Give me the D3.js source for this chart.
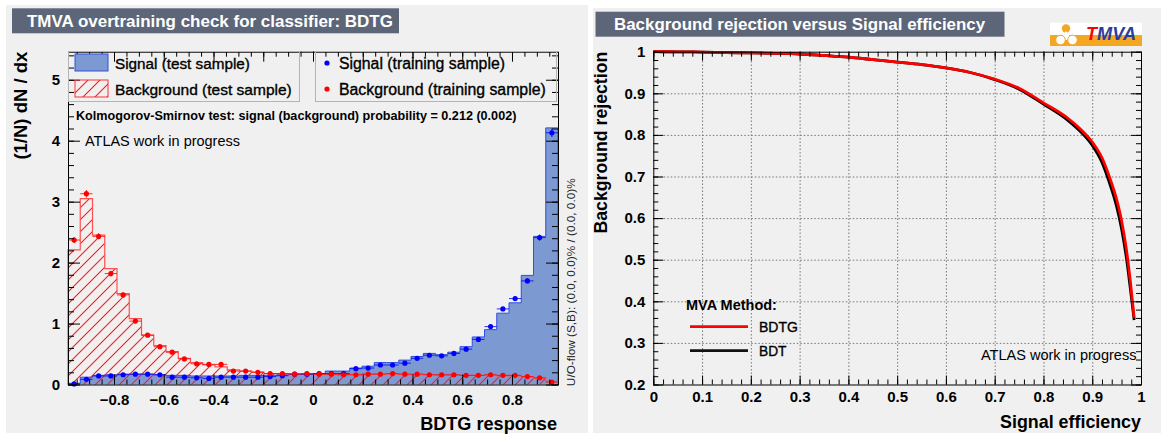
<!DOCTYPE html>
<html><head><meta charset="utf-8">
<script src="https://cdn.jsdelivr.net/npm/d3@7"></script>
<style>
body{margin:0;background:#fff}
svg{display:block}
text{font-family:"Liberation Sans",Arial,Helvetica,sans-serif}
</style>
</head><body>
<svg id="c" width="1164" height="435"></svg>
<script>
// ---------------- DATA ----------------
const histRange = [-0.985, 0.985];
const nBins = 40;
const sigTest = [0.02,0.12,0.15,0.16,0.17,0.17,0.17,0.16,0.15,0.15, 0.14,0.14,0.14,0.14,0.15,0.15,0.15,0.16,0.17,0.17,
                 0.18,0.22,0.22,0.27,0.30,0.36,0.36,0.40,0.46,0.51, 0.49,0.53,0.62,0.78,0.90,1.17,1.34,1.79,2.43,4.21];
const bkgTest = [2.21,3.05,2.45,1.90,1.49,1.08,0.81,0.64,0.54,0.43, 0.36,0.32,0.29,0.24,0.22,0.205,0.18,0.18,0.17,0.17,
                 0.17,0.16,0.16,0.16,0.17,0.17,0.17,0.16,0.16,0.16, 0.15,0.15,0.15,0.15,0.15,0.14,0.14,0.13,0.10,0.05];
const sigTrain = [0.01,0.085,0.14,0.14,0.16,0.17,0.17,0.16,0.12,0.12, 0.11,0.10,0.12,0.12,0.12,0.12,0.13,0.145,0.17,0.17,
                  0.18,0.18,0.18,0.26,0.27,0.32,0.32,0.35,0.43,0.48, 0.47,0.51,0.58,0.74,0.95,1.24,1.41,1.70,2.41,4.13];
const bkgTrain = [2.37,3.13,2.43,1.82,1.47,1.04,0.81,0.62,0.53,0.42, 0.34,0.33,0.33,0.22,0.22,0.20,0.18,0.18,0.17,0.18,
                  0.17,0.17,0.16,0.16,0.17,0.17,0.18,0.17,0.17,0.16, 0.16,0.16,0.15,0.15,0.16,0.15,0.15,0.13,0.11,0.04];
const sigTrainErr = [0.005,0.01,0.01,0.01,0.01,0.01,0.01,0.01,0.01,0.01, 0.01,0.01,0.01,0.01,0.01,0.01,0.01,0.01,0.01,0.01,
                     0.01,0.01,0.01,0.015,0.015,0.015,0.015,0.015,0.02,0.02, 0.02,0.02,0.02,0.025,0.03,0.03,0.035,0.04,0.05,0.07];
const bkgTrainErr = [0.05,0.06,0.05,0.045,0.04,0.035,0.03,0.025,0.025,0.02, 0.02,0.02,0.02,0.015,0.015,0.015,0.015,0.015,0.015,0.015,
                     0.015,0.015,0.015,0.015,0.015,0.015,0.015,0.015,0.015,0.015, 0.015,0.015,0.015,0.015,0.015,0.015,0.015,0.012,0.01,0.008];
const histXTicks = [-0.8,-0.6,-0.4,-0.2,0,0.2,0.4,0.6,0.8];
const histYTicks = [0,1,2,3,4,5];
const histYMax = 5.46;

const rocEff  = [0,0.05,0.1,0.15,0.2,0.25,0.3,0.35,0.4,0.45,0.5,0.55,0.6,0.65,0.7,0.75,0.8,0.85,0.875,0.9,0.92,0.935,0.95,0.96,0.97,0.978,0.986];
const rocBDTG = [1.000,0.9998,0.999,0.998,0.997,0.996,0.9945,0.991,0.987,0.981,0.975,0.969,0.961,0.950,0.934,0.912,0.877,0.840,0.815,0.783,0.745,0.700,0.645,0.595,0.525,0.450,0.360];
const rocBDT  = [1.000,0.9998,0.999,0.998,0.997,0.996,0.9945,0.991,0.987,0.981,0.975,0.969,0.961,0.950,0.933,0.910,0.874,0.835,0.809,0.775,0.734,0.686,0.628,0.575,0.505,0.432,0.355];
const rocXTicks = [0,0.1,0.2,0.3,0.4,0.5,0.6,0.7,0.8,0.9,1];
const rocYTicks = [0.2,0.3,0.4,0.5,0.6,0.7,0.8,0.9,1];

// ---------------- SETUP ----------------
const FONT = '"Liberation Sans",Arial,Helvetica,sans-serif';
const svg = d3.select("#c");
const defs = svg.append("defs");
const pat = defs.append("pattern").attr("id","hatch").attr("patternUnits","userSpaceOnUse")
  .attr("width",12).attr("height",12);
pat.append("path").attr("d","M-3,3 L3,-3 M0,12 L12,0 M9,15 L15,9")
  .attr("stroke","#ff1a1a").attr("stroke-width",1.1).attr("fill","none");

function txt(g, s, o) {
  const t = g.append("text").text(s)
    .attr("font-family", FONT)
    .attr("font-weight", o.bold ? "bold" : "normal")
    .attr("font-size", o.fs || 14)
    .attr("fill", o.fill || "#000")
    .attr("text-anchor", o.anchor || "start");
  if (o.medium) t.attr("stroke", o.fill || "#000").attr("stroke-width", 0.35);
  let fs = o.fs || 14;
  if (o.width) {
    const w = t.node().getComputedTextLength();
    fs = fs * o.width / w;
    t.attr("font-size", fs);
  }
  if (o.rotate) {
    const xb = o.cx + 0.36 * fs;
    t.attr("x", xb).attr("y", o.y).attr("transform", `rotate(-90 ${xb} ${o.y})`);
  } else {
    t.attr("x", o.x).attr("y", o.cy + 0.36 * fs);
  }
  return t;
}

function drawAxes(g, xs, ys, cfg) {
  const [x0, x1] = xs.range();
  const [y1, y0] = ys.range();
  const styleTicks = sel => { sel.select(".domain").remove(); sel.selectAll("line").attr("stroke","#000").attr("stroke-width",1); };
  const bx = g.append("g").attr("transform",`translate(0,${y1})`)
    .call(d3.axisBottom(xs).tickValues(cfg.xMajor).tickSize(-cfg.xMajLen).tickPadding(cfg.xPad).tickFormat(cfg.xFmt));
  styleTicks(bx);
  bx.selectAll("text").attr("font-family",FONT).attr("font-weight","bold").attr("font-size",cfg.labFs).attr("fill","#000");
  styleTicks(g.append("g").attr("transform",`translate(0,${y1})`)
    .call(d3.axisBottom(xs).tickValues(cfg.xMinor).tickSize(-cfg.xMinLen).tickFormat("")));
  styleTicks(g.append("g").attr("transform",`translate(0,${y0})`)
    .call(d3.axisTop(xs).tickValues(cfg.xMajor).tickSize(-cfg.xMajLen).tickFormat("")));
  styleTicks(g.append("g").attr("transform",`translate(0,${y0})`)
    .call(d3.axisTop(xs).tickValues(cfg.xMinor).tickSize(-cfg.xMinLen).tickFormat("")));
  const ly = g.append("g").attr("transform",`translate(${x0},0)`)
    .call(d3.axisLeft(ys).tickValues(cfg.yMajor).tickSize(-cfg.yMajLen).tickPadding(cfg.yPad).tickFormat(cfg.yFmt));
  styleTicks(ly);
  ly.selectAll("text").attr("font-family",FONT).attr("font-weight","bold").attr("font-size",cfg.labFs).attr("fill","#000");
  styleTicks(g.append("g").attr("transform",`translate(${x0},0)`)
    .call(d3.axisLeft(ys).tickValues(cfg.yMinor).tickSize(-cfg.yMinLen).tickFormat("")));
  styleTicks(g.append("g").attr("transform",`translate(${x1},0)`)
    .call(d3.axisRight(ys).tickValues(cfg.yMajor).tickSize(-cfg.yMajLen).tickFormat("")));
  styleTicks(g.append("g").attr("transform",`translate(${x1},0)`)
    .call(d3.axisRight(ys).tickValues(cfg.yMinor).tickSize(-cfg.yMinLen).tickFormat("")));
  g.append("rect").attr("x",x0+0.5).attr("y",y0+0.5).attr("width",x1-x0).attr("height",y1-y0)
    .attr("fill","none").attr("stroke","#000").attr("stroke-width",1);
}

// ---------------- PANELS ----------------
svg.append("rect").attr("x",6).attr("y",5).attr("width",582).attr("height",428).attr("fill","#f0f0f0");
svg.append("rect").attr("x",593).attr("y",8).attr("width",568).attr("height",425).attr("fill","#f0f0f0");

// ================= LEFT: overtraining =================
const L = svg.append("g");
L.append("rect").attr("x",12).attr("y",8.3).attr("width",387).attr("height",25).attr("fill","#5c6678");
txt(L, "TMVA overtraining check for classifier: BDTG", {x:27, cy:20.8, bold:true, fill:"#fff", width:366, fs:16});

const hx = d3.scaleLinear().domain(histRange).range([68,558]);
const hy = d3.scaleLinear().domain([0,histYMax]).range([384.5,51.7]);
const bw = (histRange[1]-histRange[0]) / nBins;
const edges = d3.range(nBins+1).map(i => histRange[0] + i*bw);

function stepPts(vals){
  const p = [{x:edges[0], y:0}];
  edges.forEach((e,i)=>p.push({x:e, y: vals[Math.min(i,nBins-1)]}));
  p.push({x:edges[nBins], y:0});
  return p;
}
const stepLine = d3.line().x(d=>hx(d.x)).y(d=>hy(d.y)).curve(d3.curveStepAfter);
const stepArea = d3.area().x(d=>hx(d.x)).y0(hy(0)).y1(d=>hy(d.y)).curve(d3.curveStepAfter);

L.append("path").attr("d", stepArea(stepPts(sigTest))).attr("fill","#7d99d1");
L.append("path").attr("d", stepLine(stepPts(sigTest))).attr("fill","none").attr("stroke","#2f4fe0").attr("stroke-width",1);
L.append("path").attr("d", stepArea(stepPts(bkgTest))).attr("fill","url(#hatch)");
L.append("path").attr("d", stepLine(stepPts(bkgTest))).attr("fill","none").attr("stroke","#ff5050").attr("stroke-width",1.2);

function drawPoints(vals, errs, color){
  const gp = L.append("g");
  vals.forEach((v,i)=>{
    const c = edges[i] + bw/2;
    gp.append("line").attr("x1",hx(edges[i])).attr("x2",hx(edges[i+1])).attr("y1",hy(v)).attr("y2",hy(v))
      .attr("stroke",color).attr("stroke-width",1).attr("opacity",0.8);
    gp.append("line").attr("x1",hx(c)).attr("x2",hx(c)).attr("y1",hy(v-errs[i])).attr("y2",hy(v+errs[i]))
      .attr("stroke",color).attr("stroke-width",1);
  });
  gp.selectAll("circle").data(vals).join("circle")
    .attr("cx",(d,i)=>hx(edges[i]+bw/2)).attr("cy",d=>hy(d)).attr("r",2.6).attr("fill",color);
}
drawPoints(sigTrain, sigTrainErr, "#0000ff");
drawPoints(bkgTrain, bkgTrainErr, "#ff0000");

const fmtHX = d => d===0 ? "0" : (d<0 ? "\u2212" : "") + Math.abs(d).toFixed(1);
drawAxes(L, hx, hy, {
  xMajor: histXTicks, xMinor: d3.range(-19,20).map(k=>k*0.05), xMajLen:10, xMinLen:5, xPad:10, xFmt: fmtHX,
  yMajor: histYTicks, yMinor: d3.range(0,28).map(k=>k*0.2), yMajLen:12, yMinLen:6, yPad:8, yFmt: d=>String(d),
  labFs: 15
});

// legends
L.append("rect").attr("x",68.5).attr("y",51.5).attr("width",231).attr("height",50).attr("fill","none").attr("stroke","#b4b4b4");
L.append("rect").attr("x",315.5).attr("y",51.5).attr("width",241).attr("height",50).attr("fill","none").attr("stroke","#b4b4b4");
L.append("rect").attr("x",75).attr("y",54).attr("width",33).attr("height",17).attr("fill","#7d99d1").attr("stroke","#2f4fe0");
L.append("rect").attr("x",75).attr("y",80).attr("width",33).attr("height",17).attr("fill","url(#hatch)").attr("stroke","#ff3030");
txt(L, "Signal (test sample)", {x:115, cy:63.3, width:135, fs:14, medium:true});
txt(L, "Background (test sample)", {x:115, cy:89.3, width:177, fs:14, medium:true});
L.append("circle").attr("cx",327).attr("cy",63).attr("r",2.6).attr("fill","#0000ff");
L.append("circle").attr("cx",327).attr("cy",89).attr("r",2.6).attr("fill","#ff0000");
txt(L, "Signal (training sample)", {x:339, cy:63.3, width:166, fs:14, medium:true});
txt(L, "Background (training sample)", {x:339, cy:89.3, width:207, fs:14, medium:true});

txt(L, "Kolmogorov-Smirnov test: signal (background) probability = 0.212 (0.002)", {x:76, cy:115, bold:true, width:441, fs:11});
txt(L, "ATLAS work in progress", {x:85, cy:140.7, width:155, fs:13});
txt(L, "U/O-flow (S,B): (0.0, 0.0)% / (0.0, 0.0)%", {rotate:true, cx:570.5, y:178.3, anchor:"end", width:208, fs:10, fill:"#222"});
txt(L, "(1/N) dN / dx", {rotate:true, cx:20, y:51.7, anchor:"end", bold:true, width:108, fs:16});
txt(L, "BDTG response", {x:557, cy:423.3, anchor:"end", bold:true, width:137, fs:17});

// ================= RIGHT: ROC =================
const R = svg.append("g");
R.append("rect").attr("x",595.5).attr("y",11.7).attr("width",409).attr("height",25).attr("fill","#5c6678");
txt(R, "Background rejection versus Signal efficiency", {x:614, cy:24.2, bold:true, fill:"#fff", width:371.5, fs:16});

// TMVA logo
R.append("rect").attr("x",1050).attr("y",22.7).attr("width",92).attr("height",23.3).attr("fill","#ffffff");
R.append("rect").attr("x",1050).attr("y",35).attr("width",92).attr("height",11).attr("fill","#f5a623");
R.append("circle").attr("cx",1066).attr("cy",28.5).attr("r",4.2).attr("fill","#f5a623");
R.append("path").attr("d","M1060,40 L1066,31 L1072,40 Z").attr("fill","#ffffff");
R.append("circle").attr("cx",1060.5).attr("cy",40).attr("r",4.8).attr("fill","#ffffff").attr("stroke","#f5a623").attr("stroke-width",1);
R.append("circle").attr("cx",1072.5).attr("cy",40).attr("r",4.8).attr("fill","#ffffff").attr("stroke","#f5a623").attr("stroke-width",1);
const logoT = R.append("text").attr("x",1086).attr("font-family",FONT).attr("font-weight","bold")
  .attr("font-style","italic").attr("font-size",15);
logoT.append("tspan").attr("fill","#ff0000").text("T");
logoT.append("tspan").attr("fill","#2a3d9e").text("MVA");
{
  const w = logoT.node().getComputedTextLength();
  const fs = 15 * 50 / w;
  logoT.attr("font-size", fs).attr("y", 33.5 + 0.36*fs);
}

const rx = d3.scaleLinear().domain([0,1]).range([653.3,1141]);
const ry = d3.scaleLinear().domain([0.2,1]).range([384.5,51.7]);

const grid = R.append("g");
grid.append("g").attr("transform",`translate(0,${ry(0.2)})`)
  .call(d3.axisBottom(rx).tickValues(rocXTicks.slice(1,-1)).tickSize(-(ry(0.2)-ry(1))).tickFormat(""))
  .call(s=>s.select(".domain").remove());
grid.append("g").attr("transform",`translate(${rx(0)},0)`)
  .call(d3.axisLeft(ry).tickValues(rocYTicks.slice(1,-1)).tickSize(-(rx(1)-rx(0))).tickFormat(""))
  .call(s=>s.select(".domain").remove());
grid.selectAll("line").attr("stroke","#777").attr("stroke-width",1).attr("stroke-dasharray","1.5,2");

const rocLine = d3.line().x(d=>rx(d[0])).y(d=>ry(d[1])).curve(d3.curveMonotoneX);
R.append("path").attr("d", rocLine(rocEff.map((e,i)=>[e, rocBDT[i]]))).attr("fill","none")
  .attr("stroke","#000").attr("stroke-width",2.8);
R.append("path").attr("d", rocLine(rocEff.map((e,i)=>[e, rocBDTG[i]]))).attr("fill","none")
  .attr("stroke","#ff0000").attr("stroke-width",2.8);

const fmtR = d => d===0 ? "0" : d===1 ? "1" : d.toFixed(1);
drawAxes(R, rx, ry, {
  xMajor: rocXTicks, xMinor: d3.range(0,51).map(k=>k*0.02), xMajLen:9, xMinLen:5, xPad:7, xFmt: fmtR,
  yMajor: rocYTicks, yMinor: d3.range(10,51).map(k=>k*0.02), yMajLen:10, yMinLen:5, yPad:8, yFmt: fmtR,
  labFs: 15
});

txt(R, "MVA Method:", {x:686, cy:305, bold:true, width:91, fs:13});
R.append("line").attr("x1",690).attr("x2",748).attr("y1",326.7).attr("y2",326.7).attr("stroke","#ff0000").attr("stroke-width",2.8);
R.append("line").attr("x1",690).attr("x2",748).attr("y1",350.7).attr("y2",350.7).attr("stroke","#111").attr("stroke-width",2.8);
txt(R, "BDTG", {x:759, cy:326.7, width:39, fs:13, medium:true});
txt(R, "BDT", {x:759, cy:350.7, width:27.5, fs:13, medium:true});
txt(R, "ATLAS work in progress", {x:981, cy:355, width:155.5, fs:13});

txt(R, "Background rejection", {rotate:true, cx:601, y:51.7, anchor:"end", bold:true, width:182, fs:16});
txt(R, "Signal efficiency", {x:1141, cy:421.7, anchor:"end", bold:true, width:141, fs:17});
</script>
</body></html>
